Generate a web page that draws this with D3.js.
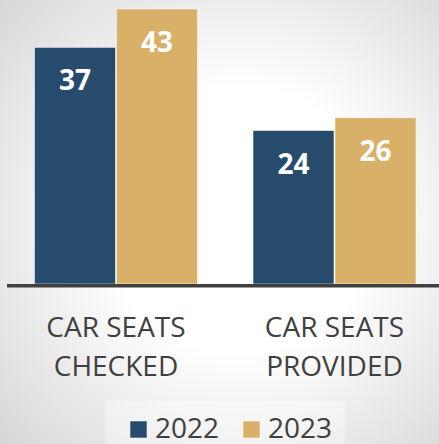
<!DOCTYPE html>
<html>
<head>
<meta charset="utf-8">
<script src="https://cdn.jsdelivr.net/npm/d3@7"></script>
<style>
  html, body { margin: 0; padding: 0; background: #fff; }
  svg { display: block; }
</style>
</head>
<body>
<svg id="chart" width="439" height="444"></svg>
<script>
// Car seat program counts by year
const categories = [["CAR SEATS", "CHECKED"], ["CAR SEATS", "PROVIDED"]];
const seriesNames = ["2022", "2023"];
const values2022 = [37, 24];
const values2023 = [43, 26];
const seriesColors = ["#264B6D", "#D9B067"];

const W = 439, H = 444;
const svg = d3.select("#chart");

// soft radial background
const defs = svg.append("defs");
const grad = defs.append("radialGradient")
  .attr("id", "bg").attr("gradientUnits", "userSpaceOnUse")
  .attr("cx", 240).attr("cy", 220).attr("r", 330);
grad.append("stop").attr("offset", "0").attr("stop-color", "#ffffff");
grad.append("stop").attr("offset", "0.4").attr("stop-color", "#ffffff");
grad.append("stop").attr("offset", "1").attr("stop-color", "#d6d6d6");
svg.append("rect").attr("width", W).attr("height", H).attr("fill", "url(#bg)");

const baseY = 284;
const x0 = d3.scaleBand().domain(d3.range(categories.length)).range([6.75, 443.75]).paddingInner(0).paddingOuter(0);
const groupW = 164;
const x1 = d3.scaleBand().domain(seriesNames).range([0, groupW]).padding(0);
const y = d3.scaleLinear().domain([0, 43]).range([baseY, 9]);

const data = categories.map((c, i) => ({
  i, cat: c,
  vals: [values2022[i], values2023[i]]
}));

const groups = svg.selectAll("g.grp").data(data).enter().append("g")
  .attr("class", "grp")
  .attr("transform", d => `translate(${x0(d.i) + (x0.bandwidth() - groupW) / 2},0)`);

groups.selectAll("rect").data(d => d.vals.map((v, k) => ({ v, k })))
  .enter().append("rect")
  .attr("x", d => x1(seriesNames[d.k]) + 0.5)
  .attr("width", x1.bandwidth() - 1)
  .attr("y", d => y(d.v))
  .attr("height", d => baseY - y(d.v))
  .attr("fill", d => seriesColors[d.k])
  .attr("stroke", "rgba(255,255,255,0.55)")
  .attr("stroke-width", 1);

groups.selectAll("text.val").data(d => d.vals.map((v, k) => ({ v, k })))
  .enter().append("text")
  .attr("class", "val")
  .attr("x", d => x1(seriesNames[d.k]) + x1.bandwidth() / 2)
  .attr("y", d => y(d.v) + 43)
  .attr("text-anchor", "middle")
  .attr("font-family", "'Open Sans', sans-serif")
  .attr("font-weight", 700)
  .attr("font-size", 28)
  .attr("fill", "#ffffff")
  .text(d => d.v);

// baseline
svg.append("line")
  .attr("x1", 7).attr("x2", W)
  .attr("y1", baseY + 1.7).attr("y2", baseY + 1.7)
  .attr("stroke", "#404040").attr("stroke-width", 3.5);

// category labels
const catLabels = svg.selectAll("text.cat").data(data).enter().append("text")
  .attr("class", "cat")
  .attr("text-anchor", "middle")
  .attr("font-family", "'Open Sans', sans-serif")
  .attr("font-size", 28)
  .attr("fill", "#404040");
catLabels.each(function (d) {
  const cx = x0(d.i) + x0.bandwidth() / 2;
  d.cat.forEach((line, j) => {
    d3.select(this).append("tspan")
      .attr("x", cx)
      .attr("y", 337 + j * 39)
      .text(line);
  });
});

// legend
const legend = svg.append("g");
legend.append("rect")
  .attr("x", 105).attr("y", 401).attr("width", 240).attr("height", 43)
  .attr("fill", "#ffffff").attr("opacity", 0.35);
const legendX = [130, 243];
seriesNames.forEach((name, k) => {
  legend.append("rect")
    .attr("x", legendX[k]).attr("y", 421)
    .attr("width", 17).attr("height", 17)
    .attr("fill", seriesColors[k])
    .attr("stroke", "rgba(255,255,255,0.55)").attr("stroke-width", 1);
  legend.append("text")
    .attr("x", legendX[k] + 25).attr("y", 437.5)
    .attr("font-family", "'Open Sans', sans-serif")
    .attr("font-size", 28)
    .attr("fill", "#404040")
    .text(name);
});
</script>
</body>
</html>
